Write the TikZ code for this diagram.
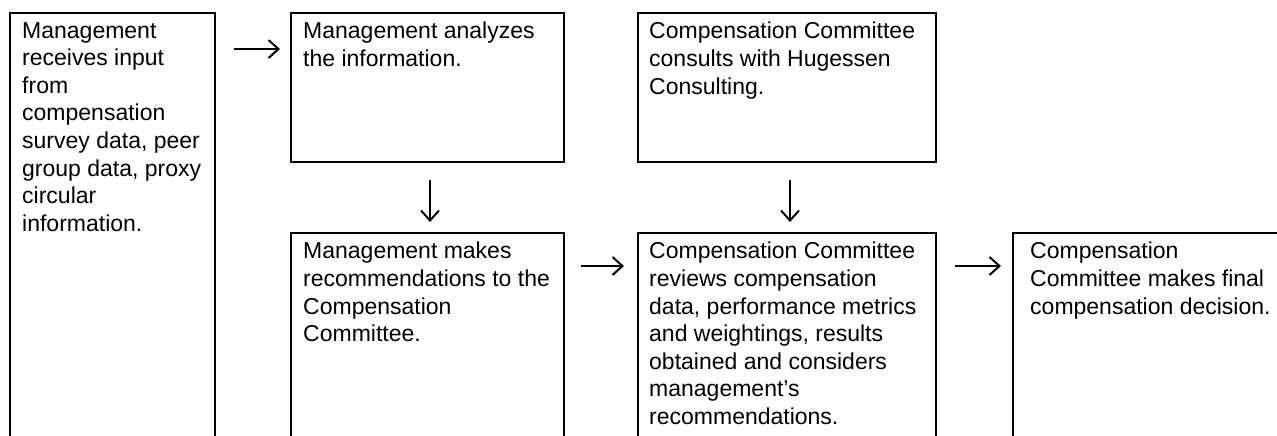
\documentclass[tikz,border=0pt]{standalone}
\usepackage{fontspec}
\setmainfont{Liberation Sans}
\usetikzlibrary{arrows.meta}
\begin{document}
\begin{tikzpicture}[x=1pt,y=-1pt,
  box/.style={draw=black,line width=2pt,anchor=north west,inner sep=0pt,minimum height=440pt},
  txt/.style={anchor=north west,inner sep=0pt,align=left,font=\fontsize{23}{27.6}\selectfont,execute at begin node=\strut},
  arr/.style={line width=2pt,-{Straight Barb[length=10pt,width=18pt,line width=2pt]}}]
\useasboundingbox (0,0) rectangle (1277,436);
\clip (0,0) rectangle (1277,436);
\fill[white] (0,0) rectangle (1277,436);
% boxes
\node[box,minimum width=205pt] (b1) at (9,12) {};
\node[box,minimum width=273pt,minimum height=149pt] (b2) at (290,12) {};
\node[box,minimum width=298pt,minimum height=149pt] (b3) at (637,12) {};
\node[box,minimum width=273pt,minimum height=230pt] (b4) at (290,232) {};
\node[box,minimum width=298pt,minimum height=230pt] (b5) at (637,232) {};
\node[box,minimum width=300pt,minimum height=230pt] (b6) at (1012,232) {};
% texts
\node[txt] (t1) at ([xshift=13pt,yshift=-10pt]b1.north west) {Management\\receives input\\from\\compensation\\survey data, peer\\group data, proxy\\circular\\information.};
\node[txt] (t2) at ([xshift=13pt,yshift=-10pt]b2.north west) {Management analyzes\\the information.};
\node[txt] (t3) at ([xshift=12pt,yshift=-10pt]b3.north west) {Compensation Committee\\consults with Hugessen\\Consulting.};
\node[txt] (t4) at ([xshift=13pt,yshift=-10pt]b4.north west) {Management makes\\recommendations to the\\Compensation\\Committee.};
\node[txt] (t5) at ([xshift=12pt,yshift=-10pt]b5.north west) {Compensation Committee\\reviews compensation\\data, performance metrics\\and weightings, results\\obtained and considers\\management’s\\recommendations.};
\node[txt] (t6) at ([xshift=18pt,yshift=-10pt]b6.north west) {Compensation\\Committee makes final\\compensation decision.};
% arrows
\draw[arr] ([xshift=18pt,yshift=-37pt]b1.north east) -- ([xshift=-10pt,yshift=-37pt]b2.north west);
\draw[arr] ([xshift=2.5pt,yshift=-17pt]b2.south) -- ([xshift=2.5pt,yshift=10pt]b4.north);
\draw[arr] ([xshift=3pt,yshift=-17pt]b3.south) -- ([xshift=3pt,yshift=10pt]b5.north);
\draw[arr] ([xshift=16pt,yshift=-34pt]b4.north east) -- ([xshift=-13pt,yshift=-34pt]b5.north west);
\draw[arr] ([xshift=18pt,yshift=-34pt]b5.north east) -- ([xshift=-11pt,yshift=-34pt]b6.north west);
\end{tikzpicture}
\end{document}
